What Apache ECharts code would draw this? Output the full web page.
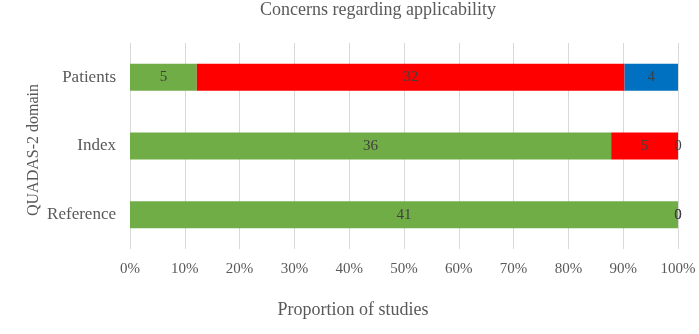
<!DOCTYPE html>
<html>
<head>
<meta charset="utf-8">
<script src="https://cdn.jsdelivr.net/npm/echarts@6/dist/echarts.min.js"></script>
<style>
  html, body { margin: 0; padding: 0; background: #fff; }
  #chart { width: 699px; height: 334px; }
</style>
</head>
<body>
<div id="chart"></div>
<script>
var categories = ['Patients', 'Index', 'Reference'];
var lowData = [5, 36, 41];
var highData = [32, 5, 0];
var unclearData = [4, 0, 0];
var tickLabels = ['0%', '10%', '20%', '30%', '40%', '50%', '60%', '70%', '80%', '90%', '100%'];

var totals = categories.map(function (c, i) {
    return lowData[i] + highData[i] + unclearData[i];
});
function toPercent(arr) {
    return arr.map(function (v, i) {
        return { value: v / totals[i] * 100, count: v };
    });
}

var font = 'Liberation Serif';
var chart = echarts.init(document.getElementById('chart'));

function makeSeries(name, arr, color) {
    return {
        name: name,
        type: 'bar',
        stack: 'all',
        barWidth: 27,
        data: toPercent(arr),
        itemStyle: { color: color },
        label: {
            show: true,
            position: 'inside',
            fontFamily: font,
            fontSize: 15,
            color: '#404040',
            formatter: function (p) { return p.data.count; }
        }
    };
}

var option = {
    animation: false,
    grid: { left: 130, right: 21, top: 43, bottom: 85 },
    graphic: [
        {
            type: 'text', x: 378, y: 10,
            style: { text: 'Concerns regarding applicability', fontFamily: font, fontSize: 18,
                fill: '#595959', align: 'center', verticalAlign: 'middle' }
        },
        {
            type: 'text', x: 353, y: 310,
            style: { text: 'Proportion of studies', fontFamily: font, fontSize: 18,
                fill: '#595959', align: 'center', verticalAlign: 'middle' }
        },
        {
            type: 'text', x: 34, y: 150, rotation: Math.PI / 2,
            style: { text: 'QUADAS-2 domain', fontFamily: font, fontSize: 16,
                fill: '#595959', align: 'center', verticalAlign: 'middle' }
        }
    ],
    xAxis: {
        type: 'value',
        min: 0,
        max: 100,
        interval: 10,
        axisLine: { show: false },
        axisTick: { show: false },
        splitLine: { lineStyle: { color: '#d9d9d9' } },
        axisLabel: {
            margin: 13,
            fontFamily: font,
            fontSize: 15,
            color: '#595959',
            formatter: function (v) { return tickLabels[Math.round(v / 10)]; }
        }
    },
    yAxis: {
        type: 'category',
        inverse: true,
        data: categories,
        axisLine: { show: false },
        axisTick: { show: false },
        axisLabel: {
            margin: 14,
            fontFamily: font,
            fontSize: 17,
            color: '#595959'
        }
    },
    series: [
        makeSeries('Low', lowData, '#70ad47'),
        makeSeries('High', highData, '#ff0000'),
        makeSeries('Unclear', unclearData, '#0070c0')
    ]
};
chart.setOption(option);
</script>
</body>
</html>
